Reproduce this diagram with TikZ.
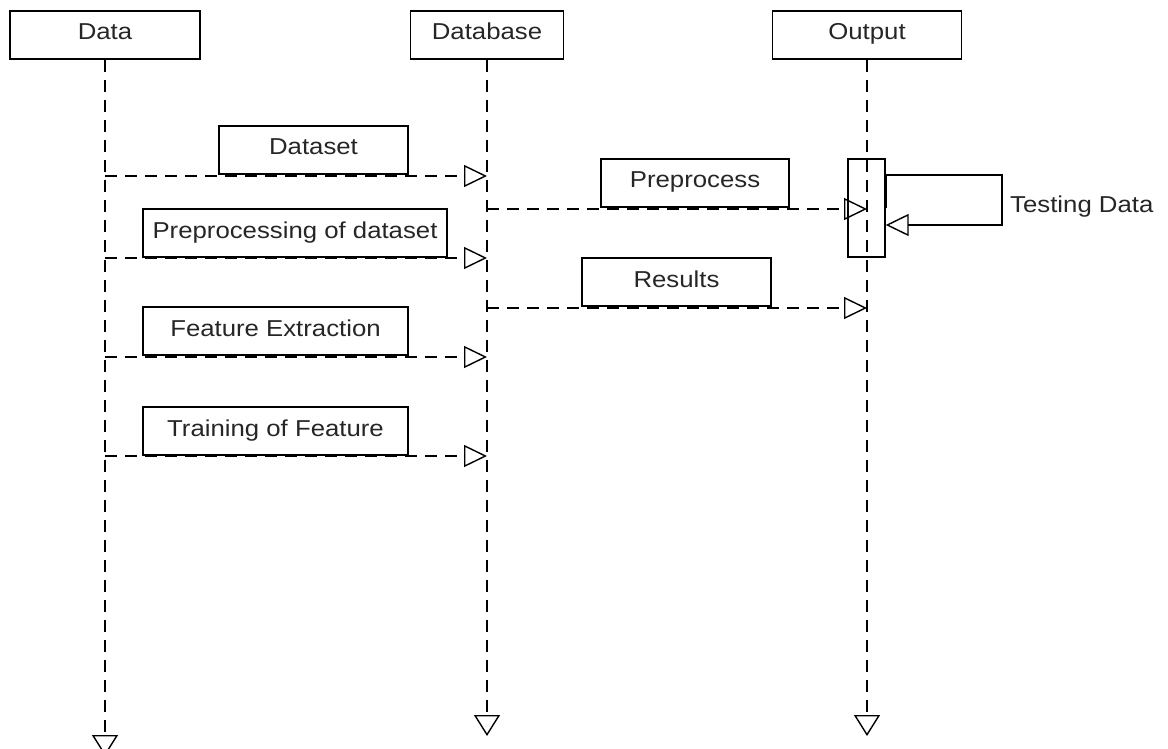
\documentclass[tikz,border=0pt]{standalone}
\usepackage{fontspec}
\setmainfont{Liberation Sans}[FakeStretch=1.12]
\usetikzlibrary{arrows.meta}
\begin{document}
\begin{tikzpicture}[x=1pt,y=-1pt,
  every node/.style={font=\fontsize{23}{27}\selectfont, inner sep=0pt, text=black!85},
  headbox/.style={draw, line width=1.4pt, minimum height=48pt, text height=17pt, text depth=7pt},
  lblbox/.style={draw, line width=1.4pt, minimum height=48pt, text height=17pt, text depth=7pt},
  life/.style={line width=1.3pt, dash pattern=on 12pt off 8pt,
    -{Triangle[open,length=21pt,width=26pt,line width=1.4pt]}},
  msg/.style={line width=1.3pt, dash pattern=on 12pt off 8pt,
    -{Triangle[open,length=23pt,width=22pt,line width=1.4pt]}},
  selfmsg/.style={line width=1.4pt,
    -{Triangle[open,length=23pt,width=22pt,line width=1.4pt]}},
]
\useasboundingbox (0,0) rectangle (1168,749);

% lifeline heads
\node[headbox, minimum width=190pt] (data) at (105,35) {Data};
\node[headbox, minimum width=153pt] (db) at (487,35) {Database};
\node[headbox, minimum width=189pt] (out) at (867,35) {Output};

% lifeline ends
\coordinate (dataend) at (105,756);
\coordinate (dbend) at (487,736);
\coordinate (outend) at (867,736);

\draw[life] (data.south) -- (dataend);
\draw[life] (db.south) -- (dbend);
\draw[life] (out.south) -- (outend);

% message coordinates
\coordinate (d1) at (105,176); \coordinate (b1) at (487,176);
\coordinate (d2) at (105,258); \coordinate (b2) at (487,258);
\coordinate (d3) at (105,357); \coordinate (b3) at (487,357);
\coordinate (d4) at (105,456); \coordinate (b4) at (487,456);
\coordinate (b5) at (487,209); \coordinate (o5) at (867,209);
\coordinate (b6) at (487,308); \coordinate (o6) at (867,308);

\draw[msg] (d1) -- (b1);
\draw[msg] (d2) -- (b2);
\draw[msg] (d3) -- (b3);
\draw[msg] (d4) -- (b4);
\draw[msg] (b5) -- (o5);
\draw[msg] (b6) -- (o6);

% message labels
\node[lblbox, minimum width=189pt] (l1) at (313.5,150) {Dataset};
\node[lblbox, minimum width=304pt] (l2) at (295,233) {Preprocessing of dataset};
\node[lblbox, minimum width=265pt] (l3) at (275.5,331) {Feature Extraction};
\node[lblbox, minimum width=265pt] (l4) at (275.5,431) {Training of Feature};
\node[lblbox, minimum width=188pt] (l5) at (695,183) {Preprocess};
\node[lblbox, minimum width=189pt] (l6) at (676.5,282) {Results};

% activation box on Output
\node[draw, line width=1.4pt, minimum width=37pt, minimum height=98pt] (act) at (866.5,208) {};

% self message
\coordinate (s1) at (act.east |- 0,175);
\coordinate (s2) at (1002,175);
\coordinate (s3) at (1002,225);
\coordinate (s4) at (act.east |- 0,225);
\coordinate (s5) at (act.east |- 0,208);
\draw[selfmsg] (s1) -- (s2) -- (s3) -- (s4);
\draw[line width=2.6pt] (s1) -- (s5);
\node[anchor=west, text height=17pt, text depth=7pt] (tl) at (1010,207) {Testing Data};
\end{tikzpicture}
\end{document}
